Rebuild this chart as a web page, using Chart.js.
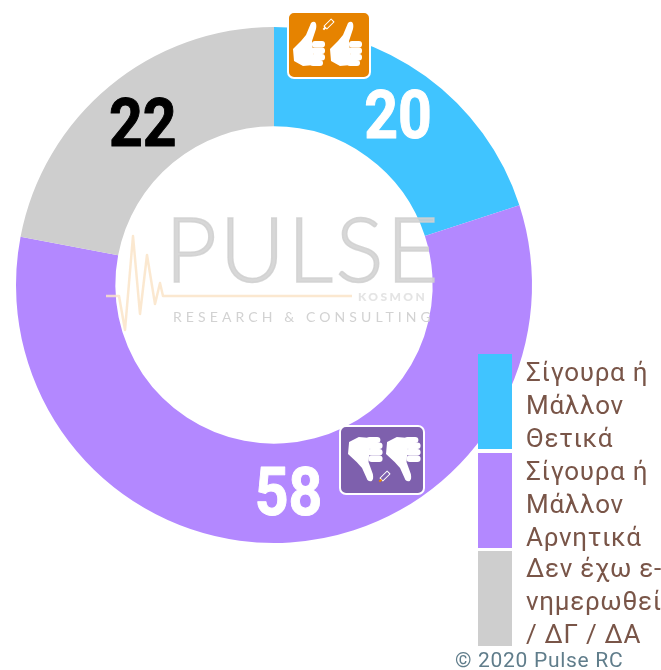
<!DOCTYPE html>
<html><head><meta charset="utf-8">
<style>html,body{margin:0;padding:0;background:#fff}#w{position:relative;width:661px;height:670px}</style>
<script src="https://cdn.jsdelivr.net/npm/chart.js@4/dist/chart.umd.min.js"></script>
</head><body><div id="w"><canvas id="c" width="661" height="670"></canvas></div>
<script>
const categories = ["Σίγουρα ή Μάλλον Θετικά","Σίγουρα ή Μάλλον Αρνητικά","Δεν έχω ενημερωθεί / ΔΓ / ΔΑ"];
const values = [20,58,22];
const colors = ["#40C4FF","#B388FF","#CECECE"];
const labelColors = ["#fff","#fff","#000"];
const legendLines = [["Σίγουρα ή","Μάλλον","Θετικά"],["Σίγουρα ή","Μάλλον","Αρνητικά"],["Δεν έχω ε-","νημερωθεί","/ ΔΓ / ΔΑ"]];
const credit = "© 2020 Pulse RC";

function rr(ctx,x,y,w,h,r){ctx.beginPath();ctx.roundRect(x,y,w,h,r);}
function thumb(ctx,x,y,flip){
  ctx.save();ctx.translate(x,y);
  if(flip){ctx.translate(0,45);ctx.scale(1.08,-1);}
  ctx.fillStyle="#fff";
  ctx.beginPath();
  ctx.moveTo(0,28);ctx.lineTo(8,20);ctx.lineTo(13,14);ctx.lineTo(18,2);
  ctx.quadraticCurveTo(20,0,22,1);ctx.quadraticCurveTo(24,3,23,8);ctx.lineTo(19,20);
  ctx.lineTo(21,44);ctx.lineTo(10,45);ctx.lineTo(1,40);ctx.closePath();ctx.fill();
  [[19,20,13,6.5],[18,26.5,14,6.5],[18,33,14,6.5],[17,39,13,6]].forEach(f=>{rr(ctx,f[0],f[1],f[2],f[3],3);ctx.fill();});
  ctx.restore();
}
function pen(ctx,x,y,col){
  ctx.save();ctx.translate(x,y);ctx.rotate(-Math.PI/4);
  ctx.strokeStyle="#fff";ctx.lineWidth=1;ctx.strokeRect(-5,-2,10,4);
  ctx.fillStyle=col;ctx.fillRect(-8,-1,3,2);ctx.restore();
}
function badge(ctx,x,y,w,h,fill){
  rr(ctx,x,y,w,h,6);ctx.fillStyle=fill;ctx.fill();ctx.strokeStyle="#fff";ctx.lineWidth=2;ctx.stroke();
}
const extras = {
  id:"extras",
  afterDatasetsDraw(chart){
    const ctx=chart.ctx, arcs=chart.getDatasetMeta(0).data;
    ctx.save();
    // watermark logo
    ctx.fillStyle="rgba(208,208,208,.85)";
    ctx.strokeStyle="rgba(208,208,208,.85)";ctx.lineWidth=1.5;
    ctx.textBaseline="alphabetic";ctx.textAlign="left";
    ctx.font='300 90px Lato';ctx.letterSpacing="2.5px";
    ctx.fillText("PULSE",165,282);ctx.strokeText("PULSE",165,282);
    ctx.strokeStyle="rgba(250,228,200,.85)";ctx.lineWidth=2.5;ctx.lineJoin="round";
    ctx.beginPath();
    [[106,296],[119,296],[125,330],[133,236],[140,314],[147,255],[155,304],[160,283],[163,296],[352,296]]
      .forEach((p,i)=>i?ctx.lineTo(p[0],p[1]):ctx.moveTo(p[0],p[1]));
    ctx.stroke();
    ctx.fillStyle="rgba(225,225,225,.9)";ctx.font='900 12px Lato';ctx.letterSpacing="2.4px";
    ctx.fillText("KOSMON",358,301);
    ctx.fillStyle="rgba(205,205,205,.9)";ctx.font='400 14px Lato';ctx.letterSpacing="4.1px";
    ctx.fillText("RESEARCH & CONSULTING",173,322);
    ctx.letterSpacing="0px";
    // value labels
    ctx.textAlign="center";ctx.textBaseline="middle";
    arcs.forEach((a,i)=>{
      const p=a.tooltipPosition();
      ctx.save();ctx.translate(p.x+1.5,p.y+5);ctx.scale(.88,1);
      ctx.font='700 67px Roboto';ctx.fillStyle=labelColors[i];
      ctx.strokeStyle=labelColors[i];ctx.lineWidth=1;
      ctx.fillText(String(values[i]),0,0);ctx.strokeText(String(values[i]),0,0);ctx.restore();
    });
    // badges
    badge(ctx,288,12,82,66,"#E68300");
    thumb(ctx,293,21,false);thumb(ctx,330,21,false);pen(ctx,329,24,"#fff");
    badge(ctx,340,426,84,68,"#7E60AD");
    thumb(ctx,348,437,true);thumb(ctx,386,437,true);pen(ctx,385,476,"#E68300");
    // legend
    const top=[354,453,551];
    ctx.textAlign="left";ctx.textBaseline="alphabetic";
    categories.forEach((c,i)=>{
      ctx.fillStyle=colors[i];ctx.fillRect(478,top[i],34,95);
      ctx.fillStyle="#795548";ctx.font='400 26px Roboto';ctx.letterSpacing="0.7px";
      legendLines[i].forEach((t,j)=>ctx.fillText(t,526,top[i]+27+j*33-(i==2?1:0)));
    });
    ctx.fillStyle="#607D8B";ctx.font='400 21px Roboto';ctx.letterSpacing="0.7px";
    ctx.fillText(credit,455,667);
    ctx.restore();
  }
};
new Chart(document.getElementById("c"),{
  type:"doughnut",
  data:{labels:categories,datasets:[{data:values,backgroundColor:colors,borderWidth:0,hoverOffset:0}]},
  options:{responsive:false,animation:false,cutout:"61.5%",
    layout:{padding:{left:16,top:27,right:129,bottom:127}},
    plugins:{legend:{display:false},tooltip:{enabled:false}}},
  plugins:[extras]
});
</script></body></html>
